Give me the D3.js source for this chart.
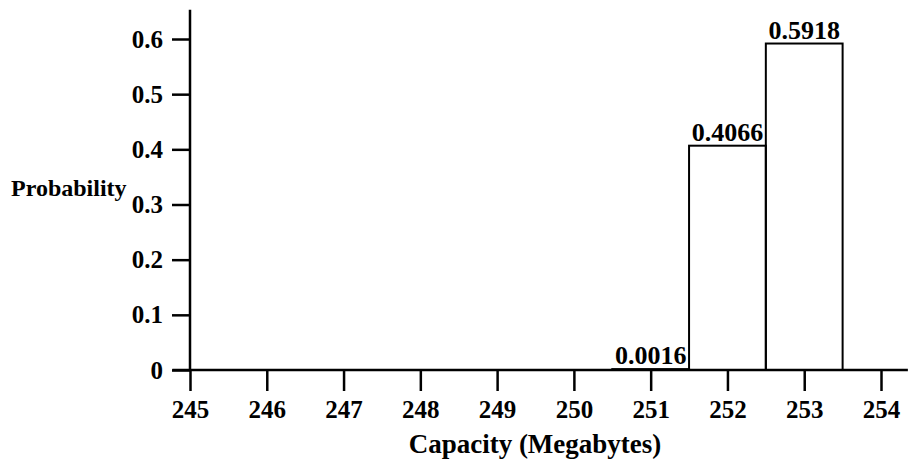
<!DOCTYPE html>
<html>
<head>
<meta charset="utf-8">
<script src="https://cdn.jsdelivr.net/npm/d3@7"></script>
<style>
  html, body { margin: 0; padding: 0; background: #fff; }
  svg { display: block; }
  text { font-family: "Liberation Serif", "Times New Roman", serif; font-weight: bold; fill: #000; }
</style>
</head>
<body>
<svg id="chart" width="910" height="462"></svg>
<script>
// Capacity distribution (megabytes) and probabilities
const capacities = [251, 252, 253];
const probabilities = [0.0016, 0.4066, 0.5918];
const valueLabels = ["0.0016", "0.4066", "0.5918"];
const xTicks = [245, 246, 247, 248, 249, 250, 251, 252, 253, 254];
const yTicks = [0, 0.1, 0.2, 0.3, 0.4, 0.5, 0.6];
const yTickLabels = ["0", "0.1", "0.2", "0.3", "0.4", "0.5", "0.6"];

const svg = d3.select("#chart");

const x = d3.scaleLinear().domain([245, 254]).range([190, 881]);
const y = d3.scaleLinear().domain([0, 0.6]).range([370, 39]);
const halfBin = 0.5;

const bins = capacities.map((c, i) => ({ c, p: probabilities[i], label: valueLabels[i] }));

// bars (outlined histogram bins centred on each capacity)
svg.append("g")
  .selectAll("rect")
  .data(bins)
  .join("rect")
  .attr("x", d => x(d.c - halfBin))
  .attr("width", d => x(d.c + halfBin) - x(d.c - halfBin))
  .attr("y", d => y(d.p))
  .attr("height", d => y(0) - y(d.p))
  .attr("fill", "none")
  .attr("stroke", "#000")
  .attr("stroke-width", 2);

// value labels above each bin
svg.append("g")
  .selectAll("text")
  .data(bins)
  .join("text")
  .attr("x", d => x(d.c))
  .attr("y", d => y(d.p) - 5)
  .attr("text-anchor", "middle")
  .style("font-size", "26px")
  .text(d => d.label);

// y axis
const yAxis = svg.append("g")
  .attr("transform", `translate(${x(245)},0)`)
  .call(d3.axisLeft(y).tickValues(yTicks).tickFormat((d, i) => yTickLabels[i])
    .tickSize(18).tickPadding(9).tickSizeOuter(0));
yAxis.select(".domain").remove();
yAxis.selectAll(".tick line").attr("stroke", "#000").attr("stroke-width", 2.5);
yAxis.selectAll(".tick text").style("font-size", "25px").attr("font-family", null);
yAxis.append("line")
  .attr("x1", 0).attr("x2", 0)
  .attr("y1", y(0)).attr("y2", y(0.653))
  .attr("stroke", "#000").attr("stroke-width", 2.5);

// x axis
const xAxis = svg.append("g")
  .attr("transform", `translate(0,${y(0)})`)
  .call(d3.axisBottom(x).tickValues(xTicks).tickFormat(d3.format("d"))
    .tickSize(21).tickPadding(9).tickSizeOuter(0));
xAxis.select(".domain").remove();
xAxis.selectAll(".tick line").attr("stroke", "#000").attr("stroke-width", 2.5);
xAxis.selectAll(".tick text").style("font-size", "25px").attr("font-family", null);
xAxis.append("line")
  .attr("x1", x(244.77)).attr("x2", x(254.35))
  .attr("y1", 0).attr("y2", 0)
  .attr("stroke", "#000").attr("stroke-width", 2.5);

// axis titles
svg.append("text")
  .attr("x", 11)
  .attr("y", 196)
  .style("font-size", "24px")
  .text("Probability");

svg.append("text")
  .attr("x", 535)
  .attr("y", 453)
  .attr("text-anchor", "middle")
  .style("font-size", "27px")
  .text("Capacity (Megabytes)");
</script>
</body>
</html>
